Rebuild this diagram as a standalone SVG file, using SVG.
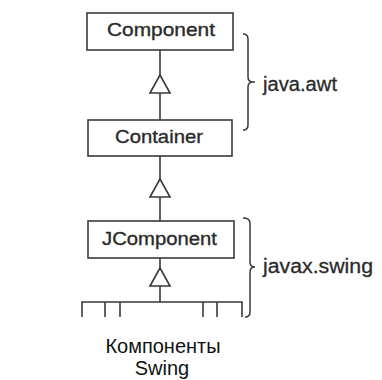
<svg xmlns="http://www.w3.org/2000/svg" width="382" height="380" viewBox="0 0 382 380">
  <style>
    .box { fill: #ffffff; stroke: #3a3a3a; stroke-width: 1.6; }
    .lbl { font-family: "Liberation Sans", Arial, sans-serif; font-size: 19px; fill: #2a2a2a; stroke: #2a2a2a; stroke-width: 0.35; }
    .pkg { font-family: "Liberation Sans", Arial, sans-serif; font-size: 20px; fill: #2a2a2a; stroke: #2a2a2a; stroke-width: 0.3; }
    .cap { font-family: "Liberation Sans", Arial, sans-serif; font-size: 20px; fill: #111111; text-anchor: middle; }
    .ln { fill: none; stroke: #3a3a3a; stroke-width: 1.6; }
    .tri { fill: #ffffff; stroke: #3a3a3a; stroke-width: 1.6; stroke-linejoin: miter; }
    .brace { fill: none; stroke: #3a3a3a; stroke-width: 1.5; }
  </style>
  <rect width="382" height="380" fill="#ffffff"/>

  <!-- inheritance connectors -->
  <g id="connectors">
    <!-- Container -> Component -->
    <path class="ln" d="M160,50 V75 M160,93 V120"/>
    <polygon class="tri" points="160,75 150,93 170,93"/>
    <!-- JComponent -> Container -->
    <path class="ln" d="M160,156 V179 M160,197 V221"/>
    <polygon class="tri" points="160,179 150,197 170,197"/>
    <!-- Swing components -> JComponent -->
    <path class="ln" d="M160,258 V268 M160,286 V302"/>
    <polygon class="tri" points="160,268 150,286 170,286"/>
    <path class="ln" d="M82,317 V302 H242 V317 M105,302 V317 M120,302 V317 M203,302 V317 M217,302 V317"/>
  </g>

  <g id="component">
    <rect class="box" x="87" y="13" width="146" height="37"/>
    <text class="lbl" x="107" y="36" textLength="108" lengthAdjust="spacingAndGlyphs">Component</text>
  </g>

  <g id="container">
    <rect class="box" x="88" y="120" width="144" height="36"/>
    <text class="lbl" x="115" y="143" textLength="88" lengthAdjust="spacingAndGlyphs">Container</text>
  </g>

  <g id="jcomponent">
    <rect class="box" x="88" y="221" width="146" height="37"/>
    <text class="lbl" x="102" y="245" textLength="115" lengthAdjust="spacingAndGlyphs">JComponent</text>
  </g>

  <!-- package braces -->
  <g id="java-awt">
    <path class="brace" d="M243,34 Q248,34 248,39 V77 Q248,82 253,82 H255 M253,82 Q248,82 248,87 V125 Q248,130 243,130"/>
    <text class="pkg" x="263" y="91" textLength="74" lengthAdjust="spacingAndGlyphs">java.awt</text>
  </g>

  <g id="javax-swing">
    <path class="brace" d="M243,218 Q250,218 250,223 V262 Q250,267 255,267 M255,267 Q250,267 250,272 V312 Q250,317 245,317"/>
    <text class="pkg" x="263" y="273" textLength="110" lengthAdjust="spacingAndGlyphs">javax.swing</text>
  </g>

  <g id="swing-components">
    <text class="cap" x="163" y="353">Компоненты</text>
    <text class="cap" x="162" y="375" font-size="19">Swing</text>
  </g>
</svg>
